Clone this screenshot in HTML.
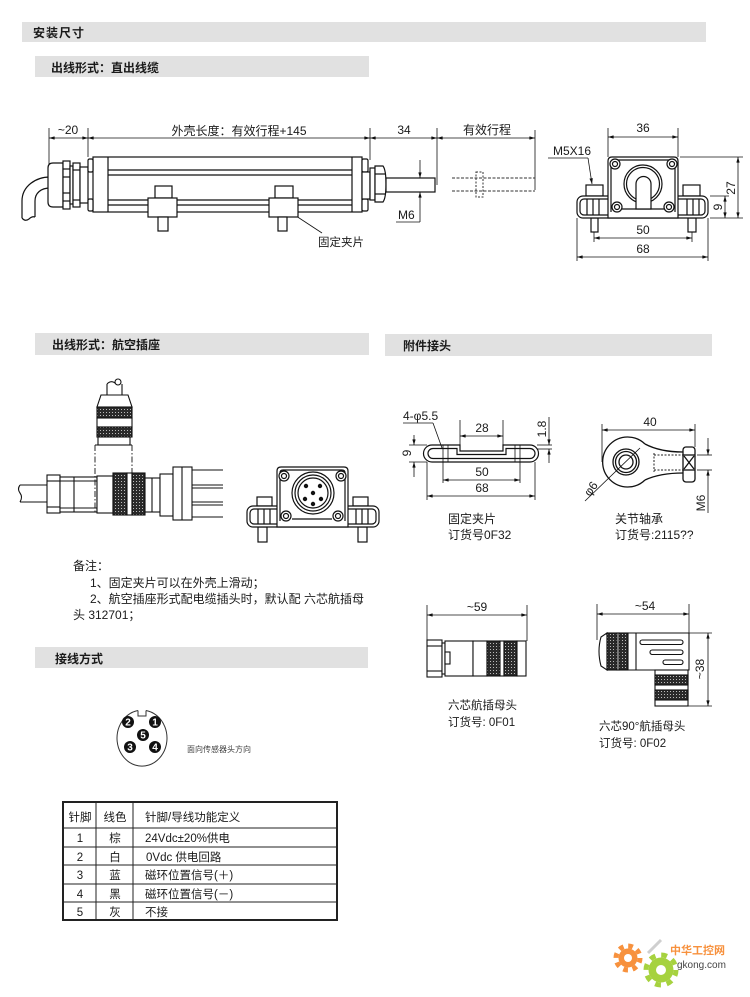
<!DOCTYPE html>
<html><head><meta charset="utf-8">
<style>
html,body{margin:0;padding:0;background:#fff;}
svg{display:block;}
text{font-family:"Liberation Sans","Noto Sans CJK SC",sans-serif;fill:#1a1a1a;}
.b{font-weight:bold;}
</style></head><body>
<svg width="750" height="997" viewBox="0 0 750 997" xmlns="http://www.w3.org/2000/svg">
<defs>
<marker id="a" viewBox="0 0 10 6" refX="10" refY="3" markerUnits="userSpaceOnUse" markerWidth="8" markerHeight="3.4" orient="auto-start-reverse"><path d="M0,0 L10,3 L0,6 z" fill="#111"/></marker>
<pattern id="k" width="3" height="3" patternUnits="userSpaceOnUse"><rect width="3" height="3" fill="#2a2a2a"/><rect x="1" y="1" width="1" height="1" fill="#bbb"/></pattern>
</defs>

<!-- header bars -->
<rect x="22" y="22" width="684" height="20" fill="#e1e1e1"/>
<text x="33" y="37" font-size="12" class="b" letter-spacing="1">安装尺寸</text>
<rect x="35" y="56" width="334" height="21" fill="#e1e1e1"/>
<text x="51" y="72" font-size="12" class="b">出线形式：直出线缆</text>
<rect x="35" y="333" width="334" height="22" fill="#e1e1e1"/>
<text x="52" y="349" font-size="12" class="b">出线形式：航空插座</text>
<rect x="385" y="334" width="327" height="22" fill="#e1e1e1"/>
<text x="403" y="350" font-size="12" class="b">附件接头</text>
<rect x="35" y="647" width="333" height="21" fill="#e1e1e1"/>
<text x="55" y="663" font-size="12" class="b">接线方式</text>

<!-- ============ Section 1: side view ============ -->
<g stroke="#111" stroke-width="0.8" fill="none">
  <line x1="49" y1="128" x2="49" y2="165"/>
  <line x1="88" y1="128" x2="88" y2="157"/>
  <line x1="370" y1="128" x2="370" y2="160"/>
  <line x1="437" y1="128" x2="437" y2="185"/>
  <line x1="535" y1="130" x2="535" y2="190"/>
  <line x1="49" y1="138" x2="88" y2="138" marker-start="url(#a)" marker-end="url(#a)"/>
  <line x1="88" y1="138" x2="370" y2="138" marker-start="url(#a)" marker-end="url(#a)"/>
  <line x1="370" y1="138" x2="437" y2="138" marker-start="url(#a)" marker-end="url(#a)"/>
  <line x1="437" y1="138" x2="535" y2="138" marker-start="url(#a)" marker-end="url(#a)"/>
  <line x1="420" y1="160" x2="420" y2="178" marker-end="url(#a)"/>
  <line x1="420" y1="222" x2="420" y2="192" marker-end="url(#a)"/>
  <line x1="396" y1="222" x2="420" y2="222"/>
  <line x1="290" y1="212" x2="322" y2="233"/>
</g>
<text x="68" y="134" font-size="12" text-anchor="middle">~20</text>
<text x="239" y="135" font-size="12" text-anchor="middle">外壳长度：有效行程+145</text>
<text x="404" y="134" font-size="12" text-anchor="middle">34</text>
<text x="487" y="134" font-size="12" text-anchor="middle">有效行程</text>
<text x="398" y="219" font-size="12">M6</text>
<text x="318" y="246" font-size="11.5">固定夹片</text>

<g stroke="#111" stroke-width="1.2" fill="#fff">
  <path d="M50,177 C36,177 22,186 22,201 L22,218 M50,188 C41,188 35,193 35,201 L35,217" fill="none"/>
  <path d="M22,218 q3,4 7,1 q3,-3 6,-2" fill="none"/>
  <path d="M63,163 L53,163 Q48,163 48,168 L48,202 Q48,207 53,207 L63,207 Z"/>
  <rect x="63" y="161" width="7" height="48"/>
  <line x1="63" y1="169" x2="70" y2="169"/><line x1="63" y1="177" x2="70" y2="177"/>
  <line x1="63" y1="193" x2="70" y2="193"/><line x1="63" y1="201" x2="70" y2="201"/>
  <rect x="70" y="166" width="3" height="38"/>
  <rect x="73" y="163" width="7" height="44"/>
  <line x1="73" y1="170" x2="80" y2="170"/><line x1="73" y1="200" x2="80" y2="200"/>
  <rect x="80" y="167" width="8" height="36"/>
  <rect x="93" y="157" width="269" height="55"/>
  <line x1="108" y1="157" x2="108" y2="212"/>
  <line x1="352" y1="157" x2="352" y2="212"/>
  <line x1="108" y1="170" x2="352" y2="170"/>
  <line x1="108" y1="175" x2="352" y2="175"/>
  <line x1="108" y1="200" x2="352" y2="200"/>
  <line x1="108" y1="205" x2="352" y2="205"/>
  <rect x="88" y="159" width="5" height="13" rx="1.5"/>
  <rect x="88" y="199" width="5" height="12" rx="1.5"/>
  <rect x="362" y="159" width="6" height="13" rx="1.5"/>
  <rect x="362" y="199" width="6" height="12" rx="1.5"/>
  <rect x="362" y="172" width="8" height="27"/>
  <rect x="370" y="168" width="5" height="32"/>
  <path d="M375,166 L383,166 Q386,170 386,184 Q386,198 383,202 L375,202 Z"/>
  <line x1="375" y1="174" x2="385" y2="174"/><line x1="375" y1="194" x2="385" y2="194"/>
  <rect x="386" y="178" width="49" height="14"/>
  <rect x="155" y="186" width="17" height="12"/>
  <rect x="148" y="198" width="29" height="19"/>
  <rect x="158" y="217" width="10" height="14"/>
  <rect x="275" y="186" width="18" height="12"/>
  <rect x="269" y="198" width="29" height="19"/>
  <rect x="278" y="217" width="9" height="14"/>
</g>
<g stroke="#333" stroke-width="1" fill="none" stroke-dasharray="3,1.5">
  <line x1="452" y1="178" x2="535" y2="178"/>
  <line x1="452" y1="191" x2="535" y2="191"/>
  <rect x="476" y="172" width="7" height="25" stroke-dasharray="2,1.5"/>
</g>

<!-- ============ Section 1: front view ============ -->
<g stroke="#111" stroke-width="0.8" fill="none">
  <line x1="608" y1="128" x2="608" y2="157"/>
  <line x1="678" y1="128" x2="678" y2="157"/>
  <line x1="608" y1="137" x2="678" y2="137" marker-start="url(#a)" marker-end="url(#a)"/>
  <line x1="594" y1="232" x2="594" y2="242"/>
  <line x1="692" y1="232" x2="692" y2="242"/>
  <line x1="594" y1="238" x2="692" y2="238" marker-start="url(#a)" marker-end="url(#a)"/>
  <line x1="577" y1="218" x2="577" y2="261"/>
  <line x1="708" y1="218" x2="708" y2="261"/>
  <line x1="577" y1="257" x2="708" y2="257" marker-start="url(#a)" marker-end="url(#a)"/>
  <line x1="680" y1="157" x2="743" y2="157"/>
  <line x1="710" y1="218" x2="743" y2="218"/>
  <line x1="738" y1="157" x2="738" y2="218" marker-start="url(#a)" marker-end="url(#a)"/>
  <line x1="710" y1="196" x2="729" y2="196"/>
  <line x1="725" y1="196" x2="725" y2="218" marker-start="url(#a)" marker-end="url(#a)"/>
  <line x1="548" y1="158" x2="588" y2="158"/>
  <line x1="588" y1="158" x2="592" y2="184" marker-end="url(#a)"/>
</g>
<text x="643" y="132" font-size="12" text-anchor="middle">36</text>
<text x="643" y="234" font-size="12" text-anchor="middle">50</text>
<text x="643" y="253" font-size="12" text-anchor="middle">68</text>
<text x="735" y="188" font-size="12" text-anchor="middle" transform="rotate(-90 735 188)">27</text>
<text x="722" y="207" font-size="12" text-anchor="middle" transform="rotate(-90 722 207)">9</text>
<text x="553" y="155" font-size="12">M5X16</text>
<g stroke="#111" stroke-width="1.2" fill="#fff">
  <rect x="586" y="185" width="17" height="11"/>
  <rect x="683" y="185" width="17" height="11"/>
  <rect x="591" y="218" width="7" height="14"/>
  <rect x="688" y="218" width="8" height="14"/>
  <rect x="577" y="196" width="131" height="22" rx="6"/>
  <rect x="580" y="199" width="125" height="16" rx="4"/>
  <line x1="587" y1="199" x2="587" y2="215"/><line x1="593" y1="199" x2="593" y2="215"/><line x1="599" y1="199" x2="599" y2="215"/>
  <line x1="687" y1="199" x2="687" y2="215"/><line x1="693" y1="199" x2="693" y2="215"/><line x1="699" y1="199" x2="699" y2="215"/>
  <path d="M608,218 L608,161 Q608,157 612,157 L674,157 Q678,157 678,161 L678,218 Z"/>
  <path d="M611,212 L611,163 Q611,160 614,160 L672,160 Q675,160 675,163 L675,212" fill="none"/>
  <line x1="622" y1="209" x2="664" y2="209"/>
  <circle cx="643" cy="184" r="19"/>
  <circle cx="643" cy="184" r="16.5"/>
  <path d="M636,209 L636,184 A7.5,7.5 0 0 1 651,184 L651,209 Z"/>
  <circle cx="615" cy="164" r="5"/><circle cx="615" cy="164" r="2.5"/>
  <circle cx="672" cy="164" r="5"/><circle cx="672" cy="164" r="2.5"/>
  <circle cx="617" cy="207" r="5"/><circle cx="617" cy="207" r="2.5"/>
  <circle cx="669" cy="207" r="5"/><circle cx="669" cy="207" r="2.5"/>
</g>

<!-- ============ Section 2: aviation socket ============ -->
<g stroke="#111" stroke-width="1.1" fill="#fff">
  <line x1="107" y1="384" x2="107" y2="395"/>
  <line x1="122" y1="384" x2="122" y2="395"/>
  <path d="M107,384 q4,-4 8,-1" fill="none"/>
  <circle cx="118" cy="382" r="3"/>
  <polygon points="101,395 128,395 132,407 97,407"/>
  <rect x="97" y="407" width="35" height="11" fill="url(#k)"/>
  <rect x="97" y="418" width="35" height="9"/>
  <rect x="97" y="427" width="35" height="10" fill="url(#k)"/>
  <rect x="98" y="437" width="32" height="8"/>
  <line x1="95" y1="445" x2="132" y2="445"/>
  <line x1="20" y1="485" x2="47" y2="485"/>
  <line x1="20" y1="502" x2="47" y2="502"/>
  <path d="M20,485 q-3,4 0,8 q3,4 0,9" fill="none"/>
  <rect x="47" y="475" width="13" height="38"/>
  <line x1="47" y1="481" x2="60" y2="481"/><line x1="47" y1="507" x2="60" y2="507"/>
  <rect x="60" y="477" width="37" height="35"/>
  <line x1="74" y1="477" x2="74" y2="512"/>
  <line x1="60" y1="481" x2="97" y2="481"/><line x1="60" y1="508" x2="97" y2="508"/>
  <rect x="97" y="476" width="16" height="37"/>
  <rect x="113" y="473" width="14" height="42" fill="url(#k)"/>
  <rect x="127" y="473" width="5" height="42"/>
  <rect x="132" y="473" width="13" height="42" fill="url(#k)"/>
  <rect x="145" y="478" width="15" height="34"/>
  <line x1="152" y1="478" x2="152" y2="512"/>
  <rect x="160" y="474" width="13" height="42"/>
  <rect x="173" y="467" width="19" height="53"/>
  <line x1="182" y1="467" x2="182" y2="520"/>
  <path d="M192,470 L223,470 M192,485 L223,485 M192,488 L223,488 M192,502 L223,502 M192,505 L223,505 M192,517 L223,517" fill="none"/>
</g>
<g stroke="#111" stroke-width="0.9" fill="none" stroke-dasharray="6,2,1.5,2">
  <line x1="95" y1="445" x2="95" y2="512"/>
  <line x1="132" y1="445" x2="132" y2="512"/>
</g>
<g stroke="#111" stroke-width="1.2" fill="#fff">
  <rect x="257" y="497" width="15" height="9"/>
  <rect x="353" y="497" width="15" height="9"/>
  <rect x="258" y="527" width="9" height="15"/>
  <rect x="358" y="527" width="9" height="15"/>
  <rect x="247" y="506" width="132" height="21" rx="6"/>
  <rect x="250" y="509" width="126" height="15" rx="4"/>
  <line x1="258" y1="509" x2="258" y2="524"/><line x1="264" y1="509" x2="264" y2="524"/><line x1="270" y1="509" x2="270" y2="524"/>
  <line x1="356" y1="509" x2="356" y2="524"/><line x1="362" y1="509" x2="362" y2="524"/><line x1="368" y1="509" x2="368" y2="524"/>
  <path d="M277,527 L277,471 Q277,467 281,467 L344,467 Q348,467 348,471 L348,527 Z"/>
  <path d="M280,521 L280,473 Q280,470 283,470 L342,470 Q345,470 345,473 L345,521" fill="none"/>
  <line x1="292" y1="519" x2="332" y2="519"/>
  <circle cx="313" cy="493" r="21"/>
  <circle cx="313" cy="493" r="18"/>
  <circle cx="313" cy="493" r="15"/>
  <circle cx="284" cy="476" r="5"/><circle cx="284" cy="476" r="2.5"/>
  <circle cx="341" cy="476" r="5"/><circle cx="341" cy="476" r="2.5"/>
  <circle cx="286" cy="516" r="5"/><circle cx="286" cy="516" r="2.5"/>
  <circle cx="338" cy="516" r="5"/><circle cx="338" cy="516" r="2.5"/>
</g>
<g fill="#111">
  <circle cx="306" cy="486" r="2.2"/><circle cx="320" cy="486" r="2.2"/>
  <circle cx="313" cy="493" r="2.2"/>
  <circle cx="305" cy="499" r="2.2"/><circle cx="321" cy="499" r="2.2"/>
  <circle cx="313" cy="504" r="2.2"/>
</g>
<text x="73" y="570" font-size="12">备注：</text>
<text x="90" y="587" font-size="12">1、固定夹片可以在外壳上滑动；</text>
<text x="90" y="603" font-size="12">2、航空插座形式配电缆插头时，默认配 六芯航插母</text>
<text x="73" y="619" font-size="12">头 312701；</text>

<!-- ============ Section 3: accessories ============ -->
<g stroke="#111" stroke-width="0.8" fill="none">
  <line x1="403" y1="423" x2="433" y2="423"/>
  <line x1="433" y1="423" x2="442" y2="448"/>
  <line x1="460" y1="420" x2="460" y2="451"/>
  <line x1="503" y1="420" x2="503" y2="451"/>
  <line x1="460" y1="436" x2="503" y2="436" marker-start="url(#a)" marker-end="url(#a)"/>
  <line x1="537" y1="445" x2="552" y2="445"/>
  <line x1="537" y1="449" x2="552" y2="449"/>
  <line x1="549" y1="417" x2="549" y2="445" marker-end="url(#a)"/>
  <line x1="549" y1="463" x2="549" y2="449" marker-end="url(#a)"/>
  <line x1="409" y1="445" x2="427" y2="445"/>
  <line x1="409" y1="462" x2="427" y2="462"/>
  <line x1="414" y1="435" x2="414" y2="445" marker-end="url(#a)"/>
  <line x1="414" y1="477" x2="414" y2="462" marker-end="url(#a)"/>
  <line x1="443" y1="445" x2="443" y2="483"/>
  <line x1="520" y1="445" x2="520" y2="483"/>
  <line x1="443" y1="480" x2="520" y2="480" marker-start="url(#a)" marker-end="url(#a)"/>
  <line x1="427" y1="462" x2="427" y2="500"/>
  <line x1="535" y1="462" x2="535" y2="500"/>
  <line x1="427" y1="496" x2="535" y2="496" marker-start="url(#a)" marker-end="url(#a)"/>
  <line x1="448" y1="445" x2="448" y2="462"/>
  <line x1="515" y1="445" x2="515" y2="462"/>
</g>
<g stroke="#111" stroke-width="1.2" fill="none">
  <path d="M432,445 L460,445 L460,451 L503,451 L503,445 L530,445 A8.5,8.5 0 0 1 530,462 L432,462 A8.5,8.5 0 0 1 432,445 Z"/>
  <path d="M433,448.5 L457,448.5 L457,454.5 L506,454.5 L506,448.5 L530,448.5 A5,5 0 0 1 530,458.5 L433,458.5 A5,5 0 0 1 433,448.5 Z"/>
</g>
<text x="403" y="420" font-size="12">4-φ5.5</text>
<text x="482" y="432" font-size="12" text-anchor="middle">28</text>
<text x="546" y="429" font-size="12" text-anchor="middle" transform="rotate(-90 546 429)">1.8</text>
<text x="411" y="453" font-size="12" text-anchor="middle" transform="rotate(-90 411 453)">9</text>
<text x="482" y="476" font-size="12" text-anchor="middle">50</text>
<text x="482" y="492" font-size="12" text-anchor="middle">68</text>
<text x="448" y="523" font-size="12">固定夹片</text>
<text x="448" y="539" font-size="12">订货号0F32</text>

<g stroke="#111" stroke-width="0.8" fill="none">
  <line x1="602" y1="424" x2="602" y2="462"/>
  <line x1="695" y1="424" x2="695" y2="447"/>
  <line x1="602" y1="430" x2="695" y2="430" marker-start="url(#a)" marker-end="url(#a)"/>
  <line x1="585" y1="501" x2="640" y2="448"/>
  <line x1="697" y1="455" x2="712" y2="455"/>
  <line x1="697" y1="470" x2="712" y2="470"/>
  <line x1="708" y1="438" x2="708" y2="455" marker-end="url(#a)"/>
  <line x1="708" y1="513" x2="708" y2="470" marker-end="url(#a)"/>
</g>
<g stroke="#111" stroke-width="1.3" fill="none">
  <path d="M645,444 A25,25 0 1 0 645,480"/>
  <path d="M645,444 Q660,452 683,452 M645,480 Q660,473 683,473"/>
  <circle cx="626" cy="462" r="13"/>
  <circle cx="626" cy="462" r="10.5"/>
  <circle cx="626" cy="462" r="7"/>
  <rect x="683" y="447" width="12" height="35" rx="3" fill="#fff"/>
  <line x1="683" y1="455" x2="695" y2="455"/><line x1="683" y1="470" x2="695" y2="470"/>
  <line x1="684" y1="456" x2="694" y2="469"/><line x1="694" y1="456" x2="684" y2="469"/>
</g>
<g stroke="#222" stroke-width="1" fill="none" stroke-dasharray="2,1.5">
  <line x1="654" y1="455" x2="683" y2="455"/>
  <line x1="654" y1="470" x2="683" y2="470"/>
  <line x1="654" y1="453" x2="654" y2="472"/>
</g>
<text x="650" y="426" font-size="12" text-anchor="middle">40</text>
<text x="590" y="497" font-size="12" transform="rotate(-55 590 497)">φ6</text>
<text x="705" y="503" font-size="12" text-anchor="middle" transform="rotate(-90 705 503)">M6</text>
<text x="615" y="523" font-size="12">关节轴承</text>
<text x="615" y="539" font-size="12">订货号:2115??</text>

<!-- ============ Section 4: connectors ============ -->
<g stroke="#111" stroke-width="0.8" fill="none">
  <line x1="427" y1="605" x2="427" y2="640"/>
  <line x1="527" y1="605" x2="527" y2="641"/>
  <line x1="427" y1="615" x2="527" y2="615" marker-start="url(#a)" marker-end="url(#a)"/>
  <line x1="597" y1="604" x2="597" y2="640"/>
  <line x1="689" y1="604" x2="689" y2="633"/>
  <line x1="597" y1="614" x2="689" y2="614" marker-start="url(#a)" marker-end="url(#a)"/>
  <line x1="689" y1="633" x2="712" y2="633"/>
  <line x1="688" y1="706" x2="712" y2="706"/>
  <line x1="708" y1="633" x2="708" y2="706" marker-start="url(#a)" marker-end="url(#a)"/>
</g>
<g stroke="#111" stroke-width="1.1" fill="#fff">
  <rect x="427" y="640" width="15" height="37"/>
  <line x1="427" y1="646" x2="442" y2="646"/><line x1="427" y1="671" x2="442" y2="671"/>
  <rect x="442" y="643" width="3" height="31"/>
  <rect x="445" y="641" width="28" height="35"/>
  <rect x="445" y="652" width="5" height="12"/>
  <rect x="473" y="641" width="14" height="35"/>
  <rect x="487" y="641" width="13" height="35" fill="url(#k)"/>
  <rect x="500" y="641" width="4" height="35"/>
  <rect x="504" y="641" width="13" height="35" fill="url(#k)"/>
  <rect x="517" y="641" width="9" height="35"/>
  <path d="M607,633 L601,637 Q597,651 601,666 L607,670 Z"/>
  <rect x="607" y="633" width="10" height="37" fill="url(#k)"/>
  <rect x="617" y="633" width="2" height="37"/>
  <rect x="619" y="633" width="9" height="37" fill="url(#k)"/>
  <path d="M628,633 L689,633 L689,670 L628,670 Z"/>
  <line x1="636" y1="633" x2="636" y2="670"/>
  <rect x="640" y="640" width="43" height="4.5" rx="2.2"/>
  <rect x="650" y="650" width="33" height="4.5" rx="2.2"/>
  <rect x="663" y="660" width="20" height="4.5" rx="2.2"/>
  <rect x="655" y="670" width="33" height="36"/>
  <rect x="655" y="675" width="33" height="10" fill="url(#k)"/>
  <rect x="655" y="690" width="33" height="10" fill="url(#k)"/>
</g>
<text x="477" y="611" font-size="12" text-anchor="middle">~59</text>
<text x="645" y="610" font-size="12" text-anchor="middle">~54</text>
<text x="704" y="669" font-size="12" text-anchor="middle" transform="rotate(-90 704 669)">~38</text>
<text x="448" y="709" font-size="11.5">六芯航插母头</text>
<text x="448" y="726" font-size="11.5">订货号: 0F01</text>
<text x="599" y="730" font-size="11.5">六芯90°航插母头</text>
<text x="599" y="747" font-size="11.5">订货号: 0F02</text>

<!-- ============ Section 5: wiring ============ -->
<g stroke="#333" stroke-width="1" fill="none">
  <path d="M138,710.5 A25,28 0 1 0 146,710.5"/>
  <path d="M138,710.5 L138,716 L146,716 L146,710.5"/>
</g>
<g fill="#111">
  <circle cx="128" cy="722" r="6"/><circle cx="155" cy="722" r="6"/>
  <circle cx="143" cy="735" r="6"/>
  <circle cx="130" cy="747" r="6"/><circle cx="155" cy="747" r="6"/>
</g>
<g font-size="10" class="b" text-anchor="middle">
  <text x="128" y="725.5" style="fill:#fff">2</text>
  <text x="155" y="725.5" style="fill:#fff">1</text>
  <text x="143" y="738.5" style="fill:#fff">5</text>
  <text x="130" y="750.5" style="fill:#fff">3</text>
  <text x="155" y="750.5" style="fill:#fff">4</text>
</g>
<text x="187" y="752" font-size="8" style="fill:#444">面向传感器头方向</text>

<g stroke="#222" fill="none">
  <rect x="63" y="802" width="274" height="118" stroke-width="2"/>
  <line x1="96" y1="802" x2="96" y2="920" stroke-width="1"/>
  <line x1="133" y1="802" x2="133" y2="920" stroke-width="1"/>
  <line x1="63" y1="828" x2="337" y2="828" stroke-width="1"/>
  <line x1="63" y1="847" x2="337" y2="847" stroke-width="1"/>
  <line x1="63" y1="865" x2="337" y2="865" stroke-width="1"/>
  <line x1="63" y1="884" x2="337" y2="884" stroke-width="1"/>
  <line x1="63" y1="902" x2="337" y2="902" stroke-width="1"/>
</g>
<g font-size="11.5" style="fill:#333">
  <text x="80" y="821" text-anchor="middle">针脚</text>
  <text x="115" y="821" text-anchor="middle">线色</text>
  <text x="145" y="821">针脚/导线功能定义</text>
  <text x="80" y="842" text-anchor="middle">1</text>
  <text x="115" y="842" text-anchor="middle">棕</text>
  <text x="145" y="842">24Vdc±20%供电</text>
  <text x="80" y="861" text-anchor="middle">2</text>
  <text x="115" y="861" text-anchor="middle">白</text>
  <text x="146" y="861">0Vdc 供电回路</text>
  <text x="80" y="879" text-anchor="middle">3</text>
  <text x="115" y="879" text-anchor="middle">蓝</text>
  <text x="145" y="879">磁环位置信号(＋)</text>
  <text x="80" y="898" text-anchor="middle">4</text>
  <text x="115" y="898" text-anchor="middle">黑</text>
  <text x="145" y="898">磁环位置信号(－)</text>
  <text x="80" y="916" text-anchor="middle">5</text>
  <text x="115" y="916" text-anchor="middle">灰</text>
  <text x="145" y="916">不接</text>
</g>

<!-- logo -->
<line x1="648" y1="953" x2="661" y2="940" stroke="#cfcfcf" stroke-width="3"/>
<circle cx="628" cy="958" r="9.5" fill="#f7913d"/>
<circle cx="628" cy="958" r="12" fill="none" stroke="#f7913d" stroke-width="5" stroke-dasharray="4.7 4.7"/>
<circle cx="628" cy="958" r="4" fill="#fff"/>
<circle cx="661" cy="970" r="12.5" fill="#a6d23f"/>
<circle cx="661" cy="970" r="15" fill="none" stroke="#a6d23f" stroke-width="5" stroke-dasharray="5.9 5.9"/>
<circle cx="661" cy="970" r="5" fill="#fff"/>
<text x="670" y="954" font-size="11" class="b" style="fill:#f7913d">中华工控网</text>
<text x="677" y="968" font-size="10" style="fill:#444">gkong.com</text>
</svg>
</body></html>
